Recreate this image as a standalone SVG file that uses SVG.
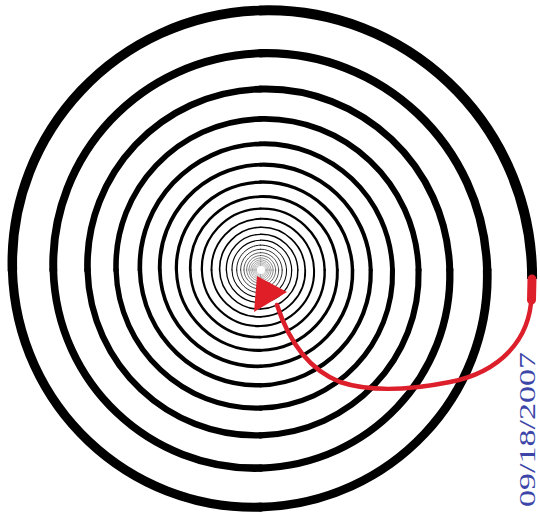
<svg xmlns="http://www.w3.org/2000/svg" width="540" height="515" viewBox="0 0 540 515">
<style>
.sp path{fill:none;stroke:#000;stroke-linecap:round}
.red{fill:none;stroke:#dc1f2a;stroke-linecap:round;stroke-linejoin:round}
.stamp{font-family:"Liberation Serif","Times New Roman",serif;font-size:24px;fill:#3c46a8}
</style>
<defs>
<g id="turn" class="sp">
<path d="M100,0 C98.415,-55.228 52.794,-97.107 0,-95.592" stroke-width="3.68"/>
<path d="M0,-95.592 C-52.794,-94.077 -92.826,-50.466 -91.378,0" stroke-width="3.52"/>
<path d="M-91.378,0 C-89.930,50.466 -48.242,88.735 0,87.350" stroke-width="3.36"/>
<path d="M0,87.350 C48.242,85.966 84.824,46.115 83.5,0" stroke-width="3.21"/>
</g>
<g id="t2"><use href="#turn"/><use href="#turn" transform="scale(0.835)"/></g>
<g id="t4"><use href="#t2"/><use href="#t2" transform="scale(0.697225)"/></g>
<g id="t8"><use href="#t4"/><use href="#t4" transform="scale(0.486123)"/></g>
<g id="t16"><use href="#t8"/><use href="#t8" transform="scale(0.236316)"/></g>
</defs>
<rect width="540" height="515" fill="#fff"/>
<g id="spiral" transform="translate(260.5,270) scale(2.715)">
<use href="#t16"/>
<use href="#t16" transform="scale(0.055845)"/>
<path d="M100.03,3.3 L100,0" stroke="#000" stroke-width="3.68" fill="none"/>
</g>
<circle id="centre" cx="261" cy="270" r="4" fill="#fff"/>
<g id="arrow">
<path class="red" d="M532,279 L531.5,300" stroke-width="9" stroke-linecap="butt"/>
<path class="red" d="M531.5,296 C530,340 500,372 450,382 C410,390 370,392 340,382 C310,370 290,345 277,305" stroke-width="4.5"/>
<polygon points="257,276 254,312 287,292" fill="#e01e28"/>
</g>
<text class="stamp" transform="translate(535,507) rotate(-90)" textLength="155" lengthAdjust="spacingAndGlyphs">09/18/2007</text>
</svg>
